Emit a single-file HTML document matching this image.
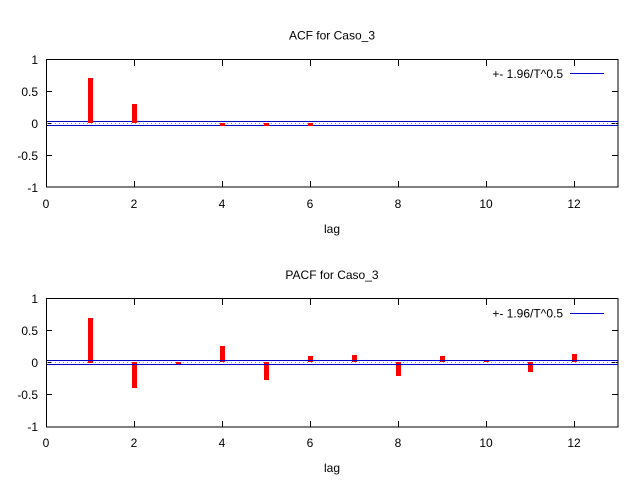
<!DOCTYPE html>
<html><head><meta charset="utf-8"><style>body{margin:0;background:#fff}svg{display:block}text{font-family:"Liberation Sans",sans-serif;font-size:12px;fill:#000}</style></head><body>
<svg width="640" height="480" xmlns="http://www.w3.org/2000/svg">
<script>/* no-op */</script>
<g id="p1"></g>
<!-- ACF panel -->
<text x="332" y="39.5" text-anchor="middle">ACF for Caso_3</text>
<g stroke="#000" stroke-width="1" fill="none">
<rect x="46.5" y="59.5" width="571.5" height="127.5"/>
</g>
<g stroke="#000" stroke-width="1">
<line x1="46" y1="91.5" x2="52" y2="91.5"/><line x1="46" y1="123.5" x2="52" y2="123.5"/><line x1="46" y1="155.5" x2="52" y2="155.5"/>
<line x1="612" y1="91.5" x2="618" y2="91.5"/><line x1="612" y1="123.5" x2="618" y2="123.5"/><line x1="612" y1="155.5" x2="618" y2="155.5"/>
<line x1="134.5" y1="187" x2="134.5" y2="181"/><line x1="222.5" y1="187" x2="222.5" y2="181"/><line x1="310.5" y1="187" x2="310.5" y2="181"/><line x1="398.5" y1="187" x2="398.5" y2="181"/><line x1="486.5" y1="187" x2="486.5" y2="181"/><line x1="574.5" y1="187" x2="574.5" y2="181"/>
<line x1="134.5" y1="60" x2="134.5" y2="66"/><line x1="222.5" y1="60" x2="222.5" y2="66"/><line x1="310.5" y1="60" x2="310.5" y2="66"/><line x1="398.5" y1="60" x2="398.5" y2="66"/><line x1="486.5" y1="60" x2="486.5" y2="66"/><line x1="574.5" y1="60" x2="574.5" y2="66"/>
</g>
<g text-anchor="end"><text x="38" y="64">1</text><text x="38" y="96">0.5</text><text x="38" y="128">0</text><text x="38" y="160">-0.5</text><text x="38" y="192">-1</text></g>
<g text-anchor="middle"><text x="46" y="208">0</text><text x="134" y="208">2</text><text x="222" y="208">4</text><text x="310" y="208">6</text><text x="398" y="208">8</text><text x="486" y="208">10</text><text x="574" y="208">12</text><text x="332" y="233">lag</text></g>
<line x1="47" y1="123.5" x2="618" y2="123.5" stroke="#999" stroke-dasharray="1,3"/>
<line x1="47" y1="121.5" x2="618" y2="121.5" stroke="#0000cc"/>
<line x1="47" y1="125.5" x2="618" y2="125.5" stroke="#0000cc"/>
<g fill="#f00">
<rect x="88" y="78" width="5" height="45"/>
<rect x="132" y="104" width="5" height="19"/>
<rect x="220" y="123" width="5" height="3"/>
<rect x="264" y="123" width="5" height="3"/>
<rect x="308" y="123" width="5" height="3"/>
</g>
<text x="563" y="78" text-anchor="end">+- 1.96/T^0.5</text>
<line x1="570" y1="73.5" x2="604" y2="73.5" stroke="#0000cc"/>

<!-- PACF panel -->
<text x="332" y="279" text-anchor="middle">PACF for Caso_3</text>
<rect x="46.5" y="298.5" width="571.5" height="128.5" stroke="#000" fill="none"/>
<g stroke="#000" stroke-width="1">
<line x1="46" y1="330.5" x2="52" y2="330.5"/><line x1="46" y1="362.5" x2="52" y2="362.5"/><line x1="46" y1="394.5" x2="52" y2="394.5"/>
<line x1="612" y1="330.5" x2="618" y2="330.5"/><line x1="612" y1="362.5" x2="618" y2="362.5"/><line x1="612" y1="394.5" x2="618" y2="394.5"/>
<line x1="134.5" y1="427" x2="134.5" y2="421"/><line x1="222.5" y1="427" x2="222.5" y2="421"/><line x1="310.5" y1="427" x2="310.5" y2="421"/><line x1="398.5" y1="427" x2="398.5" y2="421"/><line x1="486.5" y1="427" x2="486.5" y2="421"/><line x1="574.5" y1="427" x2="574.5" y2="421"/>
<line x1="134.5" y1="299" x2="134.5" y2="305"/><line x1="222.5" y1="299" x2="222.5" y2="305"/><line x1="310.5" y1="299" x2="310.5" y2="305"/><line x1="398.5" y1="299" x2="398.5" y2="305"/><line x1="486.5" y1="299" x2="486.5" y2="305"/><line x1="574.5" y1="299" x2="574.5" y2="305"/>
</g>
<g text-anchor="end"><text x="38" y="303">1</text><text x="38" y="335">0.5</text><text x="38" y="367">0</text><text x="38" y="399">-0.5</text><text x="38" y="431">-1</text></g>
<g text-anchor="middle"><text x="46" y="447">0</text><text x="134" y="447">2</text><text x="222" y="447">4</text><text x="310" y="447">6</text><text x="398" y="447">8</text><text x="486" y="447">10</text><text x="574" y="447">12</text><text x="332" y="472">lag</text></g>
<line x1="47" y1="362.5" x2="618" y2="362.5" stroke="#999" stroke-dasharray="1,3"/>
<g fill="#f00">
<rect x="88" y="318" width="5" height="45"/>
<rect x="132" y="362" width="5" height="26"/>
<rect x="176" y="362" width="5" height="3"/>
<rect x="220" y="346" width="5" height="16"/>
<rect x="264" y="362" width="5" height="18"/>
<rect x="308" y="356" width="5" height="6"/>
<rect x="352" y="355" width="5" height="7"/>
<rect x="396" y="362" width="5" height="14"/>
<rect x="440" y="356" width="5" height="6"/>
<rect x="484" y="360" width="5" height="2"/>
<rect x="528" y="362" width="5" height="10"/>
<rect x="572" y="354" width="5" height="8"/>
</g>
<line x1="47" y1="360.5" x2="618" y2="360.5" stroke="#0000cc"/>
<line x1="47" y1="364.5" x2="618" y2="364.5" stroke="#0000cc"/>
<text x="563" y="317.5" text-anchor="end">+- 1.96/T^0.5</text>
<line x1="570" y1="313.5" x2="604" y2="313.5" stroke="#0000cc"/>
</svg>
</body></html>
